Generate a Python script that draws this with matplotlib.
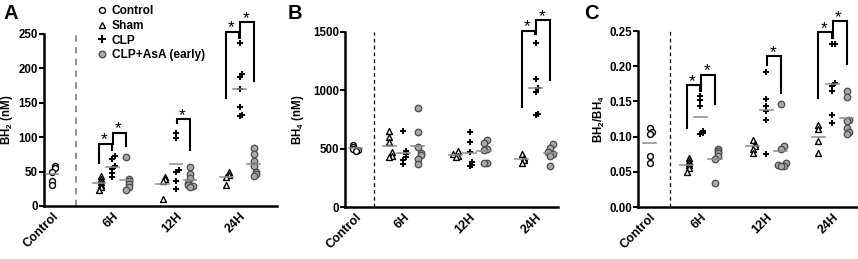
import numpy as np
import matplotlib
matplotlib.use("Agg")
import matplotlib.pyplot as plt
from matplotlib.lines import Line2D

plt.rcParams['font.family'] = ['Liberation Sans', 'DejaVu Sans']
plt.rcParams['font.weight'] = 'bold'
plt.rcParams['mathtext.fontset'] = 'custom'
plt.rcParams['mathtext.rm'] = 'Liberation Sans:bold'
plt.rcParams['mathtext.bf'] = 'Liberation Sans:bold'

# ---------------- data ----------------
time_labels = ["6H", "12H", "24H"]
group_names = ["Control", "Sham", "CLP", "CLP+AsA (early)"]

# Panel A: BH2 (nM)
bh2_control = [58, 55, 50, 37, 31]
bh2_sham = [[43, 39, 35, 31, 27, 23], [42, 39, 36, 10], [49, 45, 42, 30]]
bh2_clp = [[72, 68, 58, 54, 48, 42], [106, 99, 52, 50, 36, 24], [237, 192, 188, 170, 144, 132, 131]]
bh2_asa = [[71, 39, 36, 32, 28, 23], [56, 47, 40, 34, 31, 29, 28], [84, 75, 65, 58, 50, 47, 44]]

# Panel B: BH4 (nM)
bh4_control = [530, 515, 500, 490, 480]
bh4_sham = [[650, 600, 560, 470, 440, 425], [480, 455, 435, 425], [455, 420, 400, 380]]
bh4_clp = [[655, 480, 455, 425, 400, 365], [645, 555, 470, 390, 360, 355], [1410, 1100, 1020, 990, 800, 785]]
bh4_asa = [[850, 642, 514, 463, 443, 409, 366], [575, 545, 500, 490, 380, 375], [540, 510, 470, 455, 440, 355]]

# Panel C: BH2/BH4
ratio_control = [0.112, 0.106, 0.104, 0.072, 0.062]
ratio_sham = [[0.070, 0.066, 0.062, 0.059, 0.055, 0.050], [0.095, 0.090, 0.086, 0.082, 0.077], [0.116, 0.111, 0.094, 0.077]]
ratio_clp = [[0.158, 0.152, 0.143, 0.108, 0.105, 0.103], [0.192, 0.153, 0.143, 0.137, 0.124, 0.075],
             [0.231, 0.231, 0.176, 0.172, 0.165, 0.130, 0.119]]
ratio_asa = [[0.082, 0.080, 0.076, 0.072, 0.068, 0.034], [0.147, 0.086, 0.082, 0.062, 0.059, 0.058, 0.058],
             [0.165, 0.156, 0.124, 0.122, 0.112, 0.106, 0.104]]

# significance brackets: (time index, pair, left-leg bottom, top, right-leg bottom)
sig_A = [(0, "sham-clp", 63, 90, 82), (0, "clp-asa", 90, 106, 87), (1, "clp-asa", 120, 126, 82),
         (2, "sham-clp", 157, 253, 244), (2, "clp-asa", 244, 267, 182)]
sig_B = [(2, "sham-clp", 861, 1509, 1480), (2, "clp-asa", 1480, 1600, 1088)]
sig_C = [(0, "sham-clp", 0.112, 0.173, 0.165), (0, "clp-asa", 0.165, 0.188, 0.146),
         (1, "clp-asa", 0.202, 0.214, 0.162), (2, "sham-clp", 0.155, 0.248, 0.240),
         (2, "clp-asa", 0.240, 0.264, 0.203)]

# ---------------- styling ----------------
W, H = 858, 259
fig = plt.figure(figsize=(W / 100, H / 100), dpi=100)

GRAY_FILL = "#a8a8a8"
GRAY_EDGE = "#4a4a4a"
MEAN_COL = "#8a8a8a"
OFF_SHAM, OFF_ASA = -0.21, 0.22


def swarm(vals, thr, d):
    vals = np.asarray(vals, float)
    order = np.argsort(vals)
    offs = np.zeros(len(vals))
    placed = []
    seq = [0, 1, -1, 2, -2, 3, -3]
    for i in order:
        n = sum(1 for v in placed if abs(v - vals[i]) < thr)
        offs[i] = seq[n % len(seq)] * d
        placed.append(vals[i])
    return offs


def draw_group(ax, x, vals, kind, thr, d=0.04):
    vals = np.asarray(vals, float)
    xs = x + swarm(vals, thr, d)
    if kind == "control":
        ax.scatter(xs, vals, s=18, facecolor="white", edgecolor="black", linewidth=1.0, zorder=3, clip_on=False)
    elif kind == "sham":
        ax.scatter(xs, vals, s=18, marker="^", facecolor="white", edgecolor="black", linewidth=1.0, zorder=3,
                   clip_on=False)
    elif kind == "clp":
        ax.scatter(xs, vals, s=22, marker="+", color="black", linewidth=1.4, zorder=3, clip_on=False)
    else:
        ax.scatter(xs, vals, s=22, facecolor=GRAY_FILL, edgecolor=GRAY_EDGE, linewidth=0.9, zorder=3,
                   clip_on=False)
    m = vals.mean()
    ax.plot([x - 0.1, x + 0.1], [m, m], color=MEAN_COL, lw=1.1, zorder=4)


def panel(ax, ctrl, sham, clp, asa, xctrl, xlim, xdash, ylim, yticks, yfmt, ylabel, ylab_x, thr, sigs,
          dash_style):
    ax.set_xlim(*xlim)
    ax.set_ylim(*ylim)
    for s in ["top", "right"]:
        ax.spines[s].set_visible(False)
    for s in ["left", "bottom"]:
        ax.spines[s].set_linewidth(1.8)
    ax.set_yticks(yticks)
    ax.set_yticklabels([yfmt.format(t) for t in yticks], fontsize=8.3, fontweight="bold")
    ax.tick_params(axis="y", length=3.5, width=1.5, pad=1)
    centers = [1, 2, 3]
    ax.set_xticks([xctrl] + centers)
    ax.set_xticklabels(["Control"] + time_labels, rotation=45, ha="right", rotation_mode="anchor",
                       fontsize=9, fontweight="bold")
    ax.tick_params(axis="x", length=0, pad=3)
    ax.set_ylabel(ylabel, fontsize=8.3, fontweight="bold")
    ax.yaxis.set_label_coords(ylab_x, 0.5)
    ax.axvline(xdash, ymin=0, ymax=1, **dash_style)
    draw_group(ax, xctrl, ctrl, "control", thr)
    for i, c in enumerate(centers):
        draw_group(ax, c + OFF_SHAM, sham[i], "sham", thr)
        draw_group(ax, c, clp[i], "clp", thr)
        draw_group(ax, c + OFF_ASA, asa[i], "asa", thr)
    yr = ylim[1] - ylim[0]
    for (ti, pair, yb1, yt, yb2) in sigs:
        c = centers[ti]
        if pair == "sham-clp":
            x1, x2 = c + OFF_SHAM, c - 0.01
        else:
            x1, x2 = c + 0.01, c + OFF_ASA
        ax.plot([x1, x1, x2, x2], [yb1, yt, yt, yb2], color="black", lw=1.5, clip_on=False, zorder=5,
                solid_joinstyle="miter")
        ax.text((x1 + x2) / 2 - 0.02, yt - 0.02 * yr, "*", ha="center", va="bottom", fontsize=12.5,
                fontweight="normal", clip_on=False)


axA = fig.add_axes([44 / W, 1 - 206 / H, (277 - 44) / W, (206 - 34) / H])
axB = fig.add_axes([345 / W, 1 - 207 / H, (558 - 345) / W, (207 - 32) / H])
axC = fig.add_axes([638 / W, 1 - 207 / H, (857 - 638) / W, (207 - 31) / H])

panel(axA, bh2_control, bh2_sham, bh2_clp, bh2_asa, 0.055, (-0.071, 3.583), 0.433, (0, 250),
      [0, 50, 100, 150, 200, 250], "{:g}", r"BH$_{2}$ (nM)", -0.125, 6, sig_A,
      dict(color="#888888", lw=1.3, ls=(0, (3.5, 3))))
panel(axB, bh4_control, bh4_sham, bh4_clp, bh4_asa, 0.28, (0.119, 3.337), 0.562, (0, 1500),
      [0, 500, 1000, 1500], "{:g}", r"BH$_{4}$ (nM)", -0.185, 35, sig_B,
      dict(color="black", lw=0.9, ls=(0, (3, 2.5))))
panel(axC, ratio_control, ratio_sham, ratio_clp, ratio_asa, 0.23, (0.052, 3.375), 0.533, (0, 0.25),
      [0, 0.05, 0.10, 0.15, 0.20, 0.25], "{:.2f}", r"BH$_{2}$/BH$_{4}$", -0.14, 0.005, sig_C,
      dict(color="black", lw=0.9, ls=(0, (3, 2.5))))

# panel letters
for lab, x in [("A", 3), ("B", 288), ("C", 584)]:
    fig.text(x / W, 1 - 4 / H, lab, fontsize=14.5, fontweight="bold", ha="left", va="top")

# legend
handles = [
    Line2D([], [], ls="", marker="o", ms=4.3, mfc="white", mec="black", mew=1.0),
    Line2D([], [], ls="", marker="^", ms=4.3, mfc="white", mec="black", mew=1.0),
    Line2D([], [], ls="", marker="+", ms=5.5, color="black", mew=1.4),
    Line2D([], [], ls="", marker="o", ms=4.8, mfc=GRAY_FILL, mec=GRAY_EDGE, mew=0.9),
]
fig.legend(handles, group_names, loc="upper left", bbox_to_anchor=(89 / W, 1 + 3 / H), frameon=False,
           handlelength=0.8, handletextpad=0.4, labelspacing=0.22, borderpad=0.2,
           prop=dict(weight="bold", size=8.6))

fig.savefig("out.png", dpi=100)
